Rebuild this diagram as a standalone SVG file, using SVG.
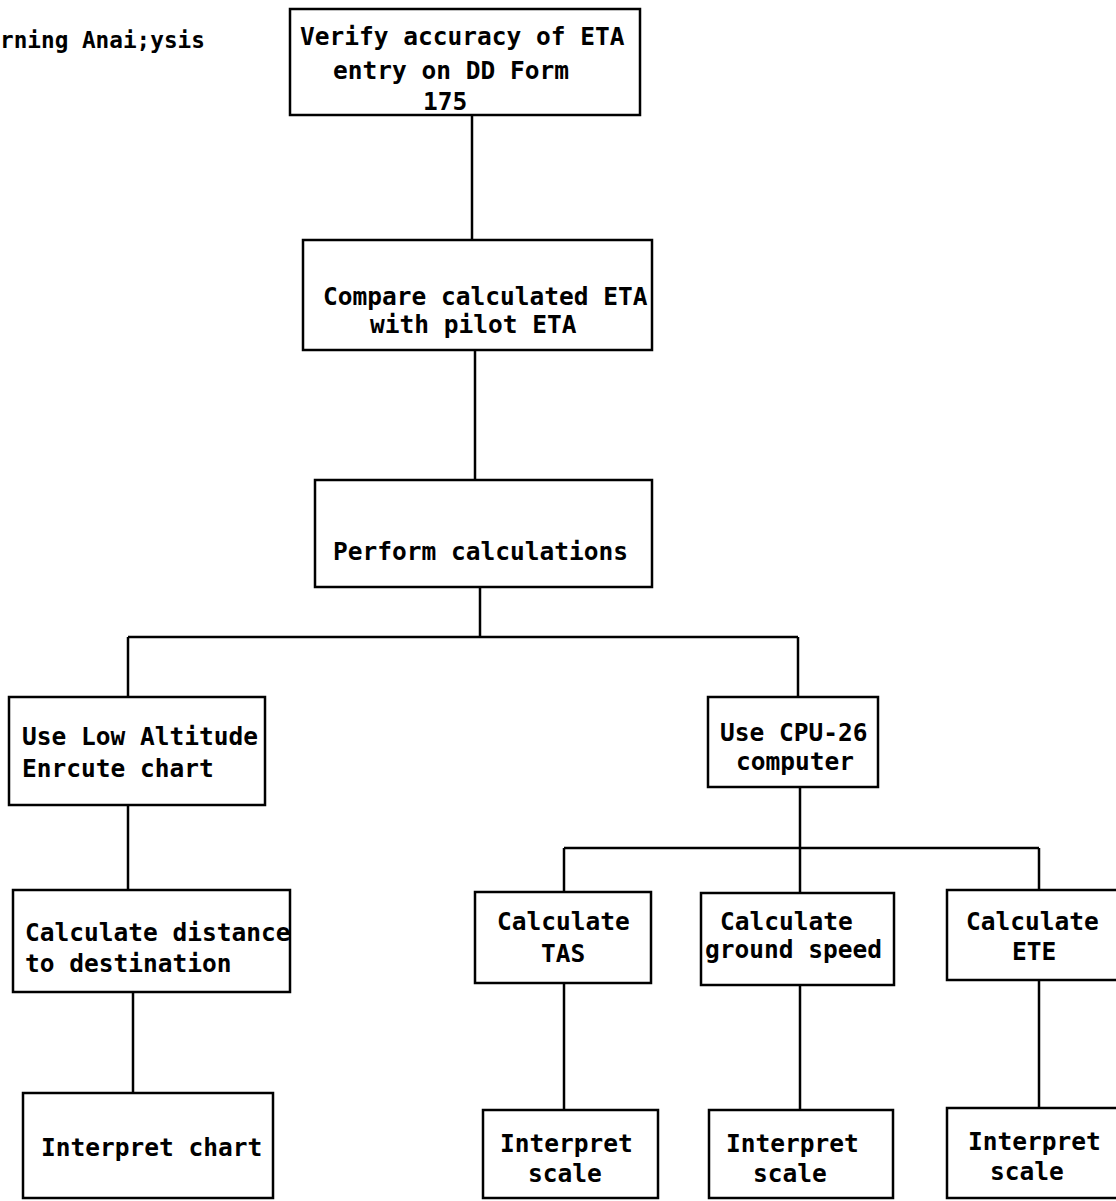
<svg xmlns="http://www.w3.org/2000/svg" width="1116" height="1201" viewBox="0 0 1116 1201">
<style>
.box{fill:#fff;stroke:#000;stroke-width:2.5}
.ln{stroke:#000;stroke-width:2.5;fill:none}
text{font-family:"DejaVu Sans Mono","Liberation Mono",monospace;font-weight:bold;font-size:24.5px;fill:#000}
.title{font-size:22.7px}
</style>
<rect width="1116" height="1201" fill="#fff"/>
<text class="title" x="0" y="48">rning Anai;ysis</text>
<g id="connectors">
<path class="ln" d="M472 115V240"/>
<path class="ln" d="M475 350V480"/>
<path class="ln" d="M480 587V637"/>
<path class="ln" d="M128 637H798"/>
<path class="ln" d="M128 637V697"/>
<path class="ln" d="M798 637V697"/>
<path class="ln" d="M128 805V890"/>
<path class="ln" d="M133 992V1093"/>
<path class="ln" d="M800 787V848"/>
<path class="ln" d="M564 848H1039"/>
<path class="ln" d="M564 848V892"/>
<path class="ln" d="M800 848V893"/>
<path class="ln" d="M1039 848V890"/>
<path class="ln" d="M564 983V1110"/>
<path class="ln" d="M800 985V1110"/>
<path class="ln" d="M1039 980V1108"/>
</g>
<g id="n1"><rect class="box" x="290" y="9" width="350" height="106"/>
<text x="300" y="45">Verify accuracy of ETA</text>
<text x="333" y="79">entry on DD Form</text>
<text x="423" y="110">175</text></g>
<g id="n2"><rect class="box" x="303" y="240" width="349" height="110"/>
<text x="323" y="305">Compare calculated ETA</text>
<text x="370" y="333">with pilot ETA</text></g>
<g id="n3"><rect class="box" x="315" y="480" width="337" height="107"/>
<text x="333" y="560">Perform calculations</text></g>
<g id="n4"><rect class="box" x="9" y="697" width="256" height="108"/>
<text x="22" y="745">Use Low Altitude</text>
<text x="22" y="777">Enrcute chart</text></g>
<g id="n5"><rect class="box" x="708" y="697" width="170" height="90"/>
<text x="720" y="741">Use CPU-26</text>
<text x="736" y="770">computer</text></g>
<g id="n6"><rect class="box" x="13" y="890" width="277" height="102"/>
<text x="25" y="941">Calculate distance</text>
<text x="25" y="972">to destination</text></g>
<g id="n7"><rect class="box" x="23" y="1093" width="250" height="105"/>
<text x="41" y="1156">Interpret chart</text></g>
<g id="n8"><rect class="box" x="475" y="892" width="176" height="91"/>
<text x="497" y="930">Calculate</text>
<text x="541" y="962">TAS</text></g>
<g id="n9"><rect class="box" x="701" y="893" width="193" height="92"/>
<text x="720" y="930">Calculate</text>
<text x="705" y="958">ground speed</text></g>
<g id="n10"><rect class="box" x="947" y="890" width="180" height="90"/>
<text x="966" y="930">Calculate</text>
<text x="1012" y="960">ETE</text></g>
<g id="n11"><rect class="box" x="483" y="1110" width="175" height="88"/>
<text x="500" y="1152">Interpret</text>
<text x="528" y="1182">scale</text></g>
<g id="n12"><rect class="box" x="709" y="1110" width="184" height="88"/>
<text x="726" y="1152">Interpret</text>
<text x="753" y="1182">scale</text></g>
<g id="n13"><rect class="box" x="947" y="1108" width="180" height="90"/>
<text x="968" y="1150">Interpret</text>
<text x="990" y="1180">scale</text></g>
</svg>
